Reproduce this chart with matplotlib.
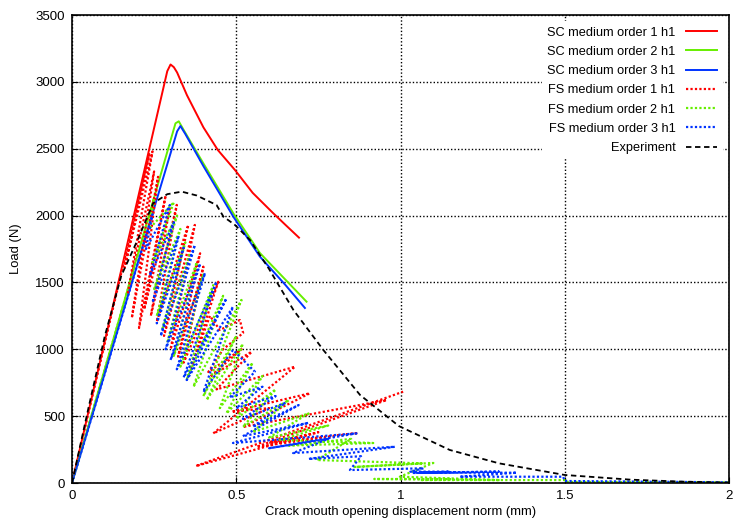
import numpy as np
import matplotlib
matplotlib.use("Agg")
import matplotlib.pyplot as plt

plt.rcParams["font.family"] = ["Liberation Sans", "DejaVu Sans"]

#%% data
# SC curves (solid)
sc1_x = [0, 0.29, 0.30, 0.31, 0.32, 0.35, 0.40, 0.444, 0.496, 0.55, 0.612, 0.65, 0.691]
sc1_y = [0, 3080, 3130, 3110, 3070, 2900, 2660, 2490, 2341, 2170, 2019, 1930, 1835]
sc2_x = [0, 0.315, 0.325, 0.34, 0.40, 0.491, 0.572, 0.65, 0.714]
sc2_y = [0, 2690, 2705, 2640, 2390, 2017, 1720, 1520, 1356]
sc3_x = [0, 0.32, 0.33, 0.345, 0.40, 0.491, 0.572, 0.65, 0.709]
sc3_y = [0, 2630, 2670, 2610, 2370, 1992, 1693, 1480, 1309]

# FS curves (dotted, zigzag)
fs1_x = [0, 0.235, 0.16, 0.245, 0.17, 0.25, 0.182, 0.262, 0.204, 0.285, 0.22, 0.298,
         0.24, 0.319, 0.258, 0.354, 0.28, 0.374, 0.30, 0.39, 0.323, 0.40, 0.34, 0.445,
         0.36, 0.42, 0.45, 0.511, 0.521, 0.46, 0.415, 0.516, 0.42, 0.547, 0.44, 0.679,
         0.43, 0.60, 0.486, 0.724, 0.52, 0.958, 0.562, 0.871, 0.60, 0.75, 0.377, 1.008]
fs1_y = [0, 2460, 1610, 2480, 1420, 2330, 1234, 2290, 1159, 2150, 1300, 2066,
         1250, 2080, 1206, 1930, 1100, 1930, 1000, 1718, 945, 1618, 900, 1505,
         850, 1250, 1144, 1219, 1122, 1000, 830, 1000, 795, 982, 700, 870,
         371, 560, 533, 671, 419, 621, 271, 374, 300, 380, 127, 683]
fs2_x = [0, 0.25, 0.235, 0.31, 0.245, 0.32, 0.25, 0.33, 0.258, 0.345, 0.275, 0.36,
         0.29, 0.38, 0.31, 0.40, 0.33, 0.43, 0.35, 0.46, 0.37, 0.516, 0.40, 0.50,
         0.41, 0.52, 0.45, 0.55, 0.47, 0.58, 0.50, 0.62, 0.52, 0.66, 0.55, 0.72,
         0.60, 0.78, 0.633, 0.917, 0.66, 0.85, 0.745, 1.065, 0.86, 1.10, 0.998, 1.303,
         0.92, 1.15, 1.06, 1.507, 1.50, 2.0]
fs2_y = [0, 2130, 1900, 2100, 1650, 2000, 1450, 1900, 1250, 1800, 1150, 1720,
         1050, 1650, 950, 1560, 870, 1480, 780, 1400, 720, 1369, 650, 1100,
         620, 1040, 560, 900, 520, 800, 480, 700, 420, 620, 380, 520,
         340, 430, 322, 299, 280, 330, 172, 147, 120, 150, 47, 22,
         30, 30, 22, 22, 8, 5]
fs3_x = [0, 0.245, 0.225, 0.298, 0.237, 0.31, 0.245, 0.325, 0.258, 0.34, 0.27, 0.374,
         0.285, 0.39, 0.30, 0.405, 0.319, 0.44, 0.34, 0.47, 0.349, 0.49, 0.40, 0.49,
         0.557, 0.48, 0.58, 0.50, 0.62, 0.52, 0.65, 0.55, 0.69, 0.52, 0.72, 0.49,
         0.866, 0.60, 0.78, 0.673, 0.983, 0.72, 0.88, 0.846, 1.07, 1.03, 1.15, 1.04,
         1.30, 1.06, 1.354, 1.18, 1.495, 1.5, 2.0]
fs3_y = [0, 2010, 1750, 2079, 1550, 1950, 1350, 1850, 1194, 1760, 1100, 1780,
         1000, 1640, 920, 1570, 850, 1505, 790, 1380, 770, 1318, 680, 995,
         832, 640, 720, 560, 650, 480, 600, 420, 583, 350, 450, 299,
         371, 260, 330, 224, 271, 180, 200, 97, 110, 85, 85, 75,
         85, 77, 77, 47, 47, 15, 5]

# experiment (dashed)
exp_x = [0, 0.05, 0.10, 0.15, 0.20, 0.247, 0.29, 0.334, 0.38, 0.44, 0.461, 0.496,
         0.542, 0.60, 0.674, 0.765, 0.877, 0.995, 1.15, 1.30, 1.50, 1.70, 1.86, 2.0]
exp_y = [0, 560, 1100, 1550, 1820, 2092, 2160, 2179, 2150, 2079, 1992, 1930,
         1817, 1600, 1294, 995, 658, 426, 247, 147, 60, 25, 10, 3]

labels = ["SC medium order 1 h1", "SC medium order 2 h1", "SC medium order 3 h1",
          "FS medium order 1 h1", "FS medium order 2 h1", "FS medium order 3 h1",
          "Experiment"]
red = "#ff0000"
green = "#66ee00"
blue = "#0033ff"
dots = (0, (1, 1))

#%% plotting
fig = plt.figure(figsize=(7.5, 5.25), dpi=100)
ax = fig.add_axes([0.096, 0.08, 0.876, 0.8914])

ax.plot(sc1_x, sc1_y, color=red, lw=1.4, label=labels[0])
ax.plot(sc2_x, sc2_y, color=green, lw=1.4, label=labels[1])
ax.plot(sc3_x, sc3_y, color=blue, lw=1.4, label=labels[2])
ax.plot(fs1_x, fs1_y, color=red, lw=1.6, ls=dots, label=labels[3])
ax.plot(fs2_x, fs2_y, color=green, lw=1.6, ls=dots, label=labels[4])
ax.plot(fs3_x, fs3_y, color=blue, lw=1.6, ls=dots, label=labels[5])
ax.plot(exp_x, exp_y, color="black", lw=1.3, ls=(0, (3, 2)), label=labels[6])

ax.set_xlim(0, 2)
ax.set_ylim(0, 3500)
ax.set_xticks([0, 0.5, 1, 1.5, 2])
ax.set_xticklabels(["0", "0.5", "1", "1.5", "2"])
ax.set_yticks(np.arange(0, 3501, 500))
ax.tick_params(direction="in", length=4, labelsize=9.5, pad=5)
ax.grid(True, color="black", ls=(0, (1, 1.5)), lw=1.0)
for sp in ax.spines.values():
    sp.set_linestyle((0, (1, 1)))
    sp.set_linewidth(1.2)

ax.set_xlabel("Crack mouth opening displacement norm (mm)", fontsize=9.4, labelpad=3)
ax.set_ylabel("Load (N)", fontsize=9.4, labelpad=10)

leg = ax.legend(loc="upper right", markerfirst=False, fontsize=9.2, handlelength=2.5,
                labelspacing=0.57, borderaxespad=0.5, fancybox=False, framealpha=1)
leg.get_frame().set_edgecolor("none")

plt.savefig("out.png", dpi=100)
